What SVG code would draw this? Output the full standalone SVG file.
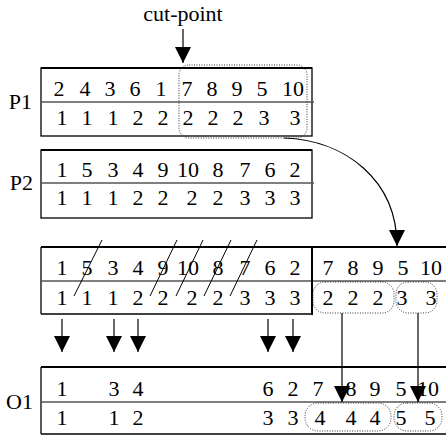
<svg xmlns="http://www.w3.org/2000/svg" width="446" height="436" viewBox="0 0 446 436">
<style>
text{font-family:"Liberation Serif","Times New Roman",serif}
.t{font-size:22px;text-anchor:middle;fill:#000}
.lb{font-size:22px;text-anchor:end;fill:#000}
.b{stroke:#000;stroke-width:1.3;fill:none}
.top{stroke:#000;stroke-width:2.2;fill:none}
.mid{stroke:#555;stroke-width:1.3;fill:none}
.dot{stroke:#333;stroke-width:1;stroke-dasharray:1 1.5;fill:none}
.sl{stroke:#000;stroke-width:1;fill:none}
.c{stroke:#000;stroke-width:1.2;fill:none}
</style>
<defs>
<marker id="ah" viewBox="0 0 16 16" refX="16" refY="8" markerWidth="16" markerHeight="16" orient="auto" markerUnits="userSpaceOnUse">
<path d="M0,0 L16,8 L0,16 z" fill="#000"/>
</marker>
</defs>
<g id="cutpoint">
<text class="t" x="183" y="21">cut-point</text>
</g>
<g id="P1">
<rect class="b" x="41" y="68" width="271" height="68"/>
<line class="top" x1="41" y1="68" x2="312" y2="68"/>
<line class="mid" x1="41" y1="102" x2="314" y2="102"/>
<text class="lb" x="32" y="109">P1</text>
<g class="t">
<text x="59" y="96">2</text><text x="85" y="96">4</text><text x="110" y="96">3</text><text x="135" y="96">6</text><text x="161" y="96">1</text><text x="187" y="96">7</text><text x="212" y="96">8</text><text x="237" y="96">9</text><text x="262" y="96">5</text><text x="293" y="96">10</text>
<text x="62" y="125">1</text><text x="87" y="125">1</text><text x="113" y="125">1</text><text x="138" y="125">2</text><text x="163" y="125">2</text><text x="188" y="125">2</text><text x="213" y="125">2</text><text x="238" y="125">2</text><text x="264" y="125">3</text><text x="295" y="125">3</text>
</g>
<rect class="dot" x="179" y="65" width="128" height="73" rx="10"/>
</g>
<g id="P2">
<rect class="b" x="41" y="150" width="271" height="68"/>
<line class="top" x1="41" y1="150" x2="312" y2="150"/>
<line class="mid" x1="41" y1="183" x2="314" y2="183"/>
<text class="lb" x="33" y="190">P2</text>
<g class="t">
<text x="62" y="177">1</text><text x="87" y="177">5</text><text x="113" y="177">3</text><text x="138" y="177">4</text><text x="163" y="177">9</text><text x="188" y="177">10</text><text x="218" y="177">8</text><text x="245" y="177">7</text><text x="270" y="177">6</text><text x="295" y="177">2</text>
<text x="62" y="205">1</text><text x="87" y="205">1</text><text x="113" y="205">1</text><text x="138" y="205">2</text><text x="163" y="205">2</text><text x="192" y="205">2</text><text x="218" y="205">2</text><text x="245" y="205">3</text><text x="270" y="205">3</text><text x="295" y="205">3</text>
</g>
</g>
<g id="child">
<line class="top" x1="41" y1="247" x2="446" y2="247"/>
<line class="b" x1="41" y1="247" x2="41" y2="314"/>
<line class="b" x1="41" y1="314" x2="312" y2="314"/>
<line class="mid" x1="41" y1="281" x2="446" y2="281"/>
<line x1="312" y1="247" x2="312" y2="315" stroke="#000" stroke-width="2"/>
<g class="t">
<text x="62" y="275">1</text><text x="87" y="275">5</text><text x="113" y="275">3</text><text x="138" y="275">4</text><text x="163" y="275">9</text><text x="188" y="275">10</text><text x="218" y="275">8</text><text x="245" y="275">7</text><text x="270" y="275">6</text><text x="295" y="275">2</text>
<text x="328" y="275">7</text><text x="353" y="275">8</text><text x="378" y="275">9</text><text x="403" y="275">5</text><text x="431" y="275">10</text>
<text x="62" y="305">1</text><text x="87" y="305">1</text><text x="113" y="305">1</text><text x="138" y="305">2</text><text x="163" y="305">2</text><text x="192" y="305">2</text><text x="218" y="305">2</text><text x="245" y="305">3</text><text x="270" y="305">3</text><text x="295" y="305">3</text>
<text x="328" y="305">2</text><text x="353" y="305">2</text><text x="378" y="305">2</text><text x="402" y="305">3</text><text x="431" y="305">3</text>
</g>
<line class="sl" x1="102" y1="240" x2="74" y2="296"/>
<line class="sl" x1="177" y1="240" x2="150" y2="296"/>
<line class="sl" x1="203" y1="240" x2="176" y2="296"/>
<line class="sl" x1="231" y1="240" x2="204" y2="296"/>
<line class="sl" x1="257" y1="240" x2="230" y2="296"/>
<rect class="dot" x="313" y="282" width="81" height="31" rx="12"/>
<rect class="dot" x="396" y="282" width="41" height="31" rx="12"/>
</g>
<g id="O1">
<line class="top" x1="41" y1="367" x2="446" y2="367"/>
<line class="b" x1="41" y1="367" x2="41" y2="434"/>
<line class="b" x1="41" y1="434" x2="446" y2="434"/>
<line class="mid" x1="41" y1="402" x2="446" y2="402"/>
<text class="lb" x="33" y="409">O1</text>
<g class="t">
<text x="62" y="396">1</text><text x="114" y="396">3</text><text x="138" y="396">4</text><text x="268" y="396">6</text><text x="293" y="396">2</text><text x="318" y="396">7</text><text x="351" y="396">8</text><text x="375" y="396">9</text><text x="401" y="396">5</text><text x="428" y="396">10</text>
<text x="62" y="425">1</text><text x="114" y="425">1</text><text x="138" y="425">2</text><text x="268" y="425">3</text><text x="293" y="425">3</text><text x="320" y="425">4</text><text x="351" y="425">4</text><text x="375" y="425">4</text><text x="401" y="425">5</text><text x="430" y="425">5</text>
</g>
<rect class="dot" x="305" y="403" width="86" height="28" rx="13"/>
<rect class="dot" x="394" y="403" width="48" height="28" rx="13"/>
</g>
<g id="connectors">
<line class="c" x1="183" y1="29" x2="183" y2="63" marker-end="url(#ah)"/>
<path class="c" d="M284,138 C345,140 397,180 397,246" marker-end="url(#ah)"/>
<line class="c" x1="62" y1="319" x2="62" y2="352" marker-end="url(#ah)"/>
<line class="c" x1="114" y1="319" x2="114" y2="352" marker-end="url(#ah)"/>
<line class="c" x1="138" y1="319" x2="138" y2="352" marker-end="url(#ah)"/>
<line class="c" x1="268" y1="319" x2="268" y2="352" marker-end="url(#ah)"/>
<line class="c" x1="293" y1="319" x2="293" y2="352" marker-end="url(#ah)"/>
<line class="c" x1="342" y1="313" x2="342" y2="402" marker-end="url(#ah)"/>
<line class="c" x1="418" y1="313" x2="418" y2="402" marker-end="url(#ah)" stroke="#444"/>
</g>
</svg>
